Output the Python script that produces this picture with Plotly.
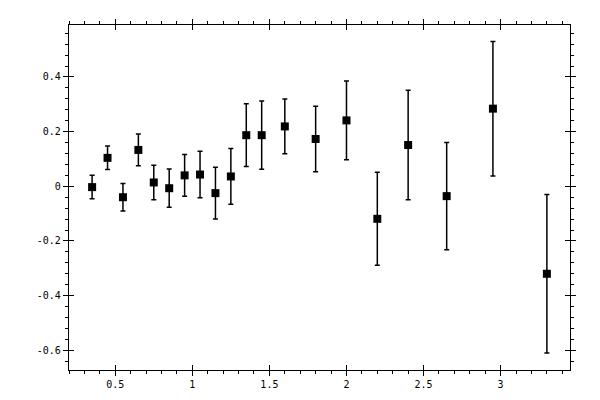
import plotly.graph_objects as go

# measured points (x, value, symmetric error)
x_vals = [0.35, 0.45, 0.55, 0.65, 0.75, 0.85, 0.95, 1.05, 1.15, 1.25,
          1.35, 1.45, 1.6, 1.8, 2.0, 2.2, 2.4, 2.65, 2.95, 3.3]
y_vals = [-0.003, 0.104, -0.040, 0.133, 0.014, -0.007, 0.040, 0.043, -0.025, 0.036,
          0.187, 0.187, 0.219, 0.173, 0.241, -0.119, 0.151, -0.036, 0.284, -0.320]
y_err = [0.043, 0.043, 0.050, 0.058, 0.063, 0.070, 0.076, 0.085, 0.095, 0.102,
         0.115, 0.125, 0.100, 0.120, 0.144, 0.170, 0.200, 0.196, 0.246, 0.290]

x_ticks = [0.5, 1, 1.5, 2, 2.5, 3]
x_labels = ["0.5", "1", "1.5", "2", "2.5", "3"]
y_ticks = [-0.6, -0.4, -0.2, 0, 0.2, 0.4]
y_labels = ["-0.6", "-0.4", "-0.2", "0", "0.2", "0.4"]

X_RANGE = [0.2, 3.45]
Y_RANGE = [-0.672, 0.59]

fig = go.Figure()
fig.add_trace(go.Scatter(
    x=x_vals, y=y_vals,
    mode="markers",
    marker=dict(symbol="square", size=8, color="black"),
    error_y=dict(type="data", array=y_err, visible=True,
                 color="black", thickness=1.5, width=2.5),
    showlegend=False,
))
# empty trace so the overlay axes (inner half of major ticks) get drawn
fig.add_trace(go.Scatter(x=[], y=[], xaxis="x2", yaxis="y2", showlegend=False))

font = dict(family="DejaVu Sans Mono", size=10, color="black")

# page body adds ~8px offset, so margins are shifted to compensate
fig.update_layout(
    width=600, height=400,
    margin=dict(l=61, r=38, t=11, b=38),
    paper_bgcolor="white", plot_bgcolor="white",
    font=font,
    xaxis=dict(
        range=X_RANGE, tickvals=x_ticks, ticktext=x_labels,
        showgrid=False, zeroline=False,
        showline=True, linecolor="black", linewidth=1.2, mirror="allticks",
        ticks="outside", ticklen=5, tickwidth=1.2, tickcolor="black",
        minor=dict(dtick=0.1, tick0=0, ticks="outside", ticklen=3,
                   tickwidth=1, tickcolor="black", showgrid=False),
        tickfont=font,
    ),
    yaxis=dict(
        range=Y_RANGE, tickvals=y_ticks, ticktext=y_labels,
        showgrid=False, zeroline=False,
        showline=True, linecolor="black", linewidth=1.2, mirror="allticks",
        ticks="outside", ticklen=5, tickwidth=1.2, tickcolor="black",
        minor=dict(dtick=0.04, tick0=0, ticks="outside", ticklen=3,
                   tickwidth=1, tickcolor="black", showgrid=False),
        tickfont=font,
    ),
    xaxis2=dict(
        range=X_RANGE, tickvals=x_ticks, overlaying="x", anchor="y2",
        showgrid=False, zeroline=False, showline=False, mirror="allticks",
        ticks="inside", ticklen=5, tickwidth=1.2, tickcolor="black",
        showticklabels=False,
    ),
    yaxis2=dict(
        range=Y_RANGE, tickvals=y_ticks, overlaying="y", anchor="x2",
        showgrid=False, zeroline=False, showline=False, mirror="allticks",
        ticks="inside", ticklen=5, tickwidth=1.2, tickcolor="black",
        showticklabels=False,
    ),
)

fig.write_html("out.html")
